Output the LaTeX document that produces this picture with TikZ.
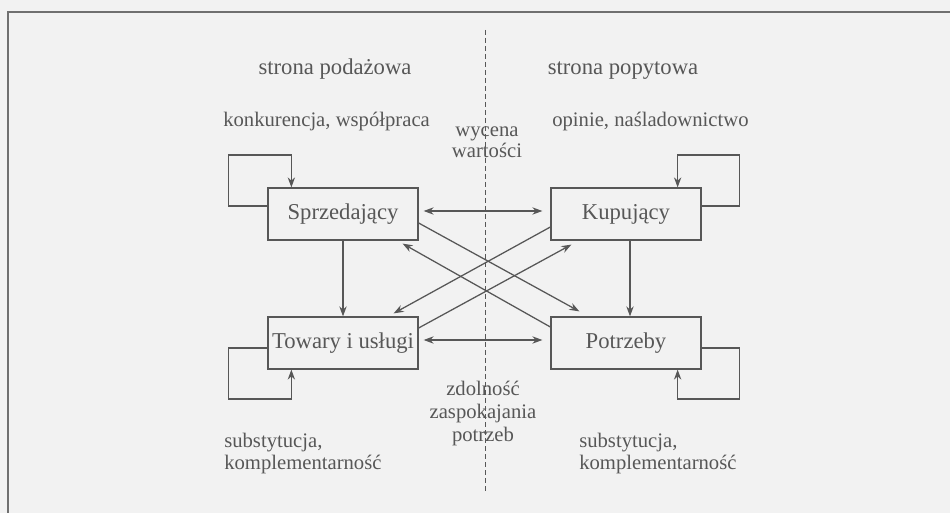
\documentclass[tikz,border=0pt]{standalone}
\usepackage{fontspec}
\setmainfont{Liberation Serif}
\usetikzlibrary{arrows.meta,calc}
\definecolor{ink}{HTML}{575757}
\definecolor{bg}{HTML}{F2F2F2}
\begin{document}
\begin{tikzpicture}[x=0.75pt,y=-0.75pt,
  box/.style={draw=ink,line width=0.95pt,minimum width=112.5pt,minimum height=39pt,inner sep=0pt,text=ink,font=\fontsize{17}{20}\selectfont},
  lbl/.style={text=ink,inner sep=0pt,font=\fontsize{15.5}{19}\selectfont},
  head/.style={text=ink,inner sep=0pt,font=\fontsize{17}{20}\selectfont},
  arr/.style={draw=ink,line width=0.95pt,-{Stealth[length=7.5pt,width=5.5pt]}},
  darr/.style={draw=ink,line width=0.95pt,{Stealth[length=7.5pt,width=5.5pt]}-{Stealth[length=7.5pt,width=5.5pt]}},
  loopline/.style={draw=ink,line width=0.95pt,-{Stealth[length=7.5pt,width=5.5pt]}},
]
\fill[bg] (0,0) rectangle (950,513);
\useasboundingbox (0,0) rectangle (950,513);
\draw[ink!85,line width=1pt] (8,520) -- (8,12) -- (960,12);

% dashed divider
\coordinate (dtop) at (485,30);
\coordinate (dbot) at (485,493);
\draw[ink,line width=0.6pt,dash pattern=on 3.75pt off 2.25pt] (dtop) -- (dbot);

% headings
\node[head,anchor=base] (hs) at (335,75) {strona podażowa};
\node[head,anchor=base] (hd) at (623,75) {strona popytowa};

% labels
\node[lbl,anchor=base west] (lk) at (223,127) {konkurencja, współpraca};
\node[lbl,anchor=base west] (lo) at (552,127) {opinie, naśladownictwo};
\node[lbl,anchor=base] (w1) at (487,137) {wycena};
\node[lbl,anchor=base] (w2) at (487,158) {wartości};
\node[lbl,anchor=base] (z1) at (483,396) {zdolność};
\node[lbl,anchor=base] (z2) at (483,418) {zaspokajania};
\node[lbl,anchor=base] (z3) at (483,441) {potrzeb};
\node[lbl,anchor=base west] (sl1) at (224,447) {substytucja,};
\node[lbl,anchor=base west] (sl2) at (224,469) {komplementarność};
\node[lbl,anchor=base west] (sr1) at (579,447) {substytucja,};
\node[lbl,anchor=base west] (sr2) at (579,469) {komplementarność};

% boxes
\node[box] (S) at (343,214) {Sprzedający};
\node[box] (K) at (626,214) {Kupujący};
\node[box] (T) at (343,343) {Towary i usługi};
\node[box] (P) at (626,343) {Potrzeby};

% self loops
\draw[loopline] ($(S.west)+(0,-8)$) -- ++(-39,0) |- ++(63,-51) -- ($(S.north west)+(24,0)$);
\draw[loopline] ($(K.east)+(0,-8)$) -- ++(38,0) |- ++(-62,-51) -- ($(K.north east)+(-24,0)$);
\draw[loopline] ($(T.west)+(0,5)$) -- ++(-39,0) |- ++(63,51) -- ($(T.south west)+(24,0)$);
\draw[loopline] ($(P.east)+(0,5)$) -- ++(38,0) |- ++(-62,51) -- ($(P.south east)+(-24,0)$);

% vertical arrows
\draw[arr] (S.south) -- (T.north);
\draw[arr] ($(K.south)+(4,0)$) -- ($(P.north)+(4,0)$);

% horizontal double arrows
\draw[darr] ($(S.east)+(5,-3)$) -- ($(K.west)+(-8,-3)$);
\draw[darr] ($(T.east)+(5,-3)$) -- ($(P.west)+(-8,-3)$);

% diagonals
\draw[arr] ($(S.east)+(0,9)$) -- ($(P.north west)+(29,-5)$);
\draw[arr] ($(P.west)+(0,-16)$) -- ($(S.south east)+(-16,3)$);
\draw[arr] ($(K.west)+(0,13)$) -- ($(T.north east)+(-25,-3)$);
\draw[arr] ($(T.east)+(0,-15)$) -- ($(K.south west)+(21,4)$);
\end{tikzpicture}
\end{document}
